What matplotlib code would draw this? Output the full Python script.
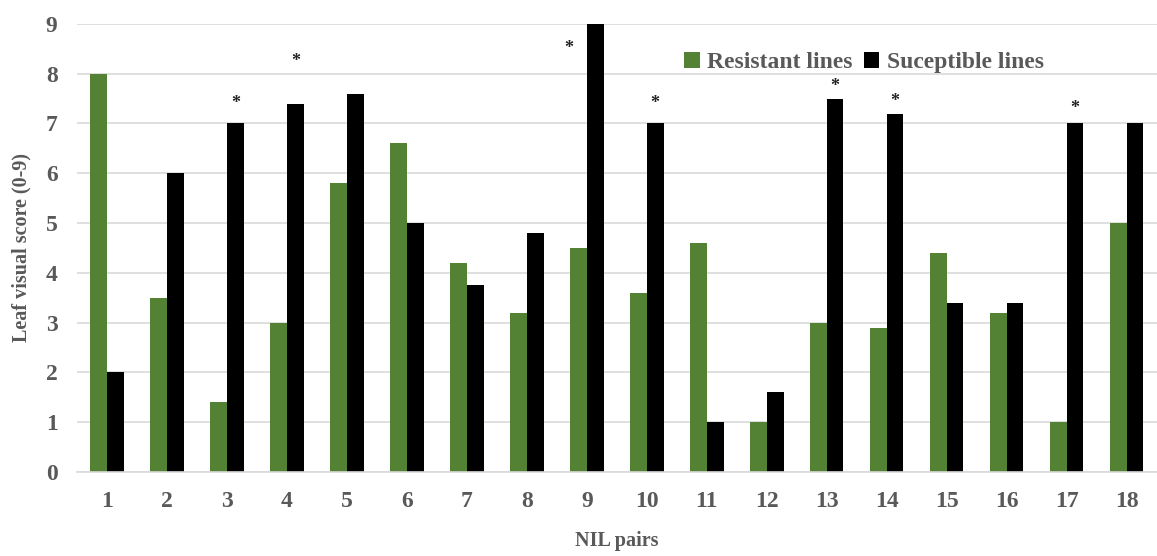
import numpy as np
import matplotlib.pyplot as plt

pairs = [str(i) for i in range(1, 19)]
resistant = [8, 3.5, 1.4, 3, 5.8, 6.6, 4.2, 3.2, 4.5, 3.6, 4.6, 1.0, 3.0, 2.9, 4.4, 3.2, 1.0, 5.0]
susceptible = [2, 6, 7, 7.4, 7.6, 5, 3.75, 4.8, 9, 7, 1, 1.6, 7.5, 7.2, 3.4, 3.4, 7, 7]

# significance marks: pair index and height of the star
star_pairs = [3, 4, 9, 10, 13, 14, 17]
star_y = [7.4, 8.25, 8.5, 7.4, 7.75, 7.45, 7.3]

plt.rcParams['font.family'] = ['Liberation Serif', 'DejaVu Serif']
plt.rcParams['font.weight'] = 'bold'
grey = '#595959'

fig = plt.figure(figsize=(11.57, 5.56), dpi=100)
ax = fig.add_axes([0.0666, 0.151, 0.933, 0.806])

x = np.arange(1, 19)
w = 0.28
ax.bar(x - w / 2, resistant, w, color='#548235', label='Resistant lines', zorder=2)
ax.bar(x + w / 2, susceptible, w, color='black', label='Suceptible lines', zorder=2)

for p, y in zip(star_pairs, star_y):
    dx = w / 2 if p != 9 else -0.3
    ax.text(p + dx, y, '*', ha='center', va='center', fontsize=13, color='#222222',
            zorder=3, bbox=dict(facecolor='white', edgecolor='none', pad=1))

ax.set_xlim(0.5, 18.5)
ax.set_ylim(0, 9)
ax.set_xticks(x)
ax.set_xticklabels(pairs)
ax.set_yticks(range(10))
ax.tick_params(axis='both', length=0, labelsize=17, colors=grey)
ax.tick_params(axis='x', pad=14)
ax.tick_params(axis='y', pad=14)
ax.yaxis.grid(True, color='#d9d9d9', linewidth=1.2, zorder=0)
ax.set_axisbelow(True)
for s in ['top', 'right', 'left']:
    ax.spines[s].set_visible(False)
ax.spines['bottom'].set_color('#d9d9d9')
ax.spines['bottom'].set_linewidth(1.2)

ax.set_xlabel('NIL pairs', fontsize=14.5, color=grey, fontweight='bold', labelpad=13)
ax.set_ylabel('Leaf visual score (0-9)', fontsize=14.5, color=grey, fontweight='bold', labelpad=10)

leg = ax.legend(loc='upper right', bbox_to_anchor=(0.915, 0.985), ncol=2, frameon=False,
                fontsize=17, handlelength=0.65, handleheight=0.65, handletextpad=0.3,
                columnspacing=0.5)
for t in leg.get_texts():
    t.set_color(grey)

fig.savefig('out.png', dpi=100)
